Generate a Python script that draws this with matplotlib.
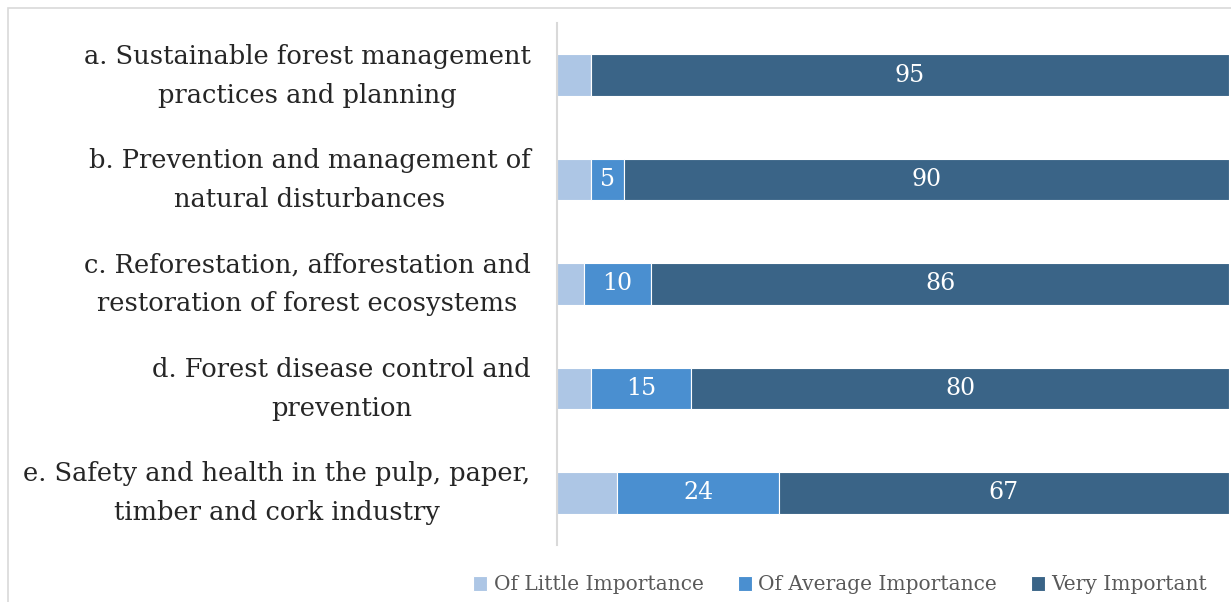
import matplotlib
matplotlib.use("Agg")
import matplotlib.pyplot as plt
import matplotlib.transforms as mtransforms
from matplotlib.patches import Rectangle

categories = [
    "a. Sustainable forest management\npractices and planning",
    "b. Prevention and management of\nnatural disturbances",
    "c. Reforestation, afforestation and\nrestoration of forest ecosystems",
    "d. Forest disease control and\nprevention",
    "e. Safety and health in the pulp, paper,\ntimber and cork industry",
]
little = [5, 5, 4, 5, 9]
average = [0, 5, 10, 15, 24]
very = [95, 90, 86, 80, 67]
series_names = ["Of Little Importance", "Of Average Importance", "Very Important"]
colors = ["#ADC6E5", "#4A8FD0", "#3A6487"]

plt.rcParams['font.family'] = ['DejaVu Serif']

fig = plt.figure(figsize=(12.31, 6.02), dpi=100)
ax = fig.add_axes([557/1231, 1-545/602, (1229-557)/1231, (545-23)/602])

y = list(range(len(categories)))
left = [0]*len(categories)
for vals, col, name in zip([little, average, very], colors, series_names):
    bars = ax.barh(y, vals, left=left, height=0.4, color=col, edgecolor='white', linewidth=0.8, label=name)
    if name != series_names[0]:
        for b, v in zip(bars, vals):
            if v > 0:
                ax.text(b.get_x()+b.get_width()/2, b.get_y()+b.get_height()/2, str(v),
                        ha='center', va='center', color='white', fontsize=17)
    left = [l+v for l, v in zip(left, vals)]

ax.set_xlim(0, 100)
ax.set_ylim(len(categories)-0.5, -0.5)
ax.set_yticks(y)
ax.set_yticklabels(categories, fontsize=18.5, color='#262626', ha='right',
                   multialignment='center', linespacing=1.7)
ax.tick_params(axis='y', length=0, pad=19)
offset = mtransforms.ScaledTranslation(0, 9/100, fig.dpi_scale_trans)
for lab in ax.get_yticklabels():
    lab.set_transform(lab.get_transform() + offset)
ax.set_xticks([])
for s in ['top', 'right', 'bottom']:
    ax.spines[s].set_visible(False)
ax.spines['left'].set_color('#D9D9D9')
ax.spines['left'].set_linewidth(1.5)

leg = fig.legend(loc='center', bbox_to_anchor=(840/1231, 1-585/602), ncol=3, frameon=False,
                 fontsize=14.5, handlelength=0.7, handleheight=0.7, handletextpad=0.3, columnspacing=1.7)
for t in leg.get_texts():
    t.set_color('#595959')

fig.patches.append(Rectangle((8/1231, -0.1), 1.2, 1-8/602+0.1, transform=fig.transFigure,
                             fill=False, edgecolor='#D9D9D9', linewidth=1.2))

fig.savefig("out.png", dpi=100)
